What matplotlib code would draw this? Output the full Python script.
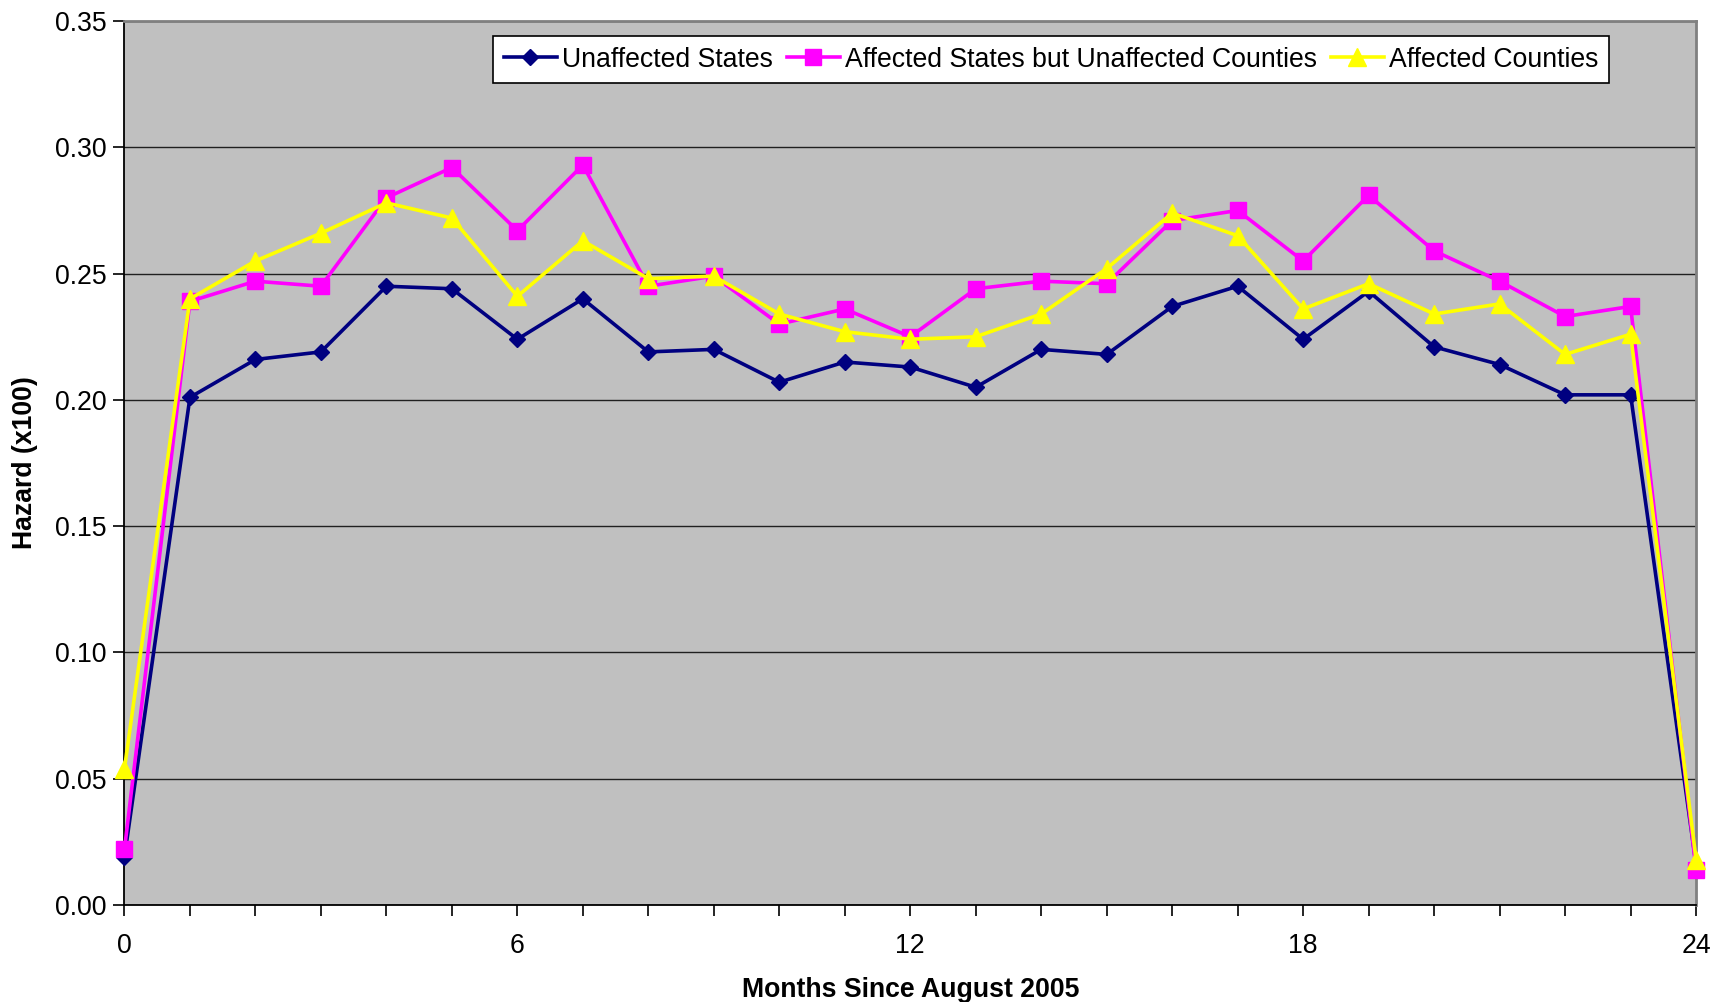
import matplotlib
matplotlib.use("Agg")
import matplotlib.pyplot as plt
from matplotlib.ticker import MultipleLocator, FixedLocator, FormatStrFormatter

plt.rcParams["font.family"] = ["Liberation Sans", "DejaVu Sans"]

months = list(range(25))

unaffected_states = [0.019, 0.201, 0.216, 0.219, 0.245, 0.244, 0.224, 0.240, 0.219,
                     0.220, 0.207, 0.215, 0.213, 0.205, 0.220, 0.218, 0.237, 0.245,
                     0.224, 0.243, 0.221, 0.214, 0.202, 0.202, 0.016]
affected_states_unaffected_counties = [0.022, 0.239, 0.247, 0.245, 0.280, 0.292, 0.267,
                                       0.293, 0.245, 0.249, 0.230, 0.236, 0.225, 0.244,
                                       0.247, 0.246, 0.271, 0.275, 0.255, 0.281, 0.259,
                                       0.247, 0.233, 0.237, 0.014]
affected_counties = [0.054, 0.240, 0.255, 0.266, 0.278, 0.272, 0.241, 0.263, 0.248,
                     0.249, 0.234, 0.227, 0.224, 0.225, 0.234, 0.252, 0.274, 0.265,
                     0.236, 0.246, 0.234, 0.238, 0.218, 0.226, 0.018]

series_labels = ["Unaffected States",
                 "Affected States but Unaffected Counties",
                 "Affected Counties"]
x_tick_labels = [0, 6, 12, 18, 24]

fs = 19.2

fig = plt.figure(figsize=(17.12, 10.02), dpi=100)
ax = fig.add_axes([0.0727, 0.0968, 0.9180, 0.8822])
ax.set_facecolor("#C0C0C0")

lw = 2.6
ax.plot(months, unaffected_states, color="#000080", lw=lw, marker="D", ms=8.5,
        mec="#000080", mfc="#000080", label=series_labels[0], clip_on=False, zorder=3)
ax.plot(months, affected_states_unaffected_counties, color="#FF00FF", lw=lw, marker="s",
        ms=11.5, mec="#FF00FF", mfc="#FF00FF", label=series_labels[1], clip_on=False, zorder=4)
ax.plot(months, affected_counties, color="#FFFF00", lw=lw, marker="^", ms=12.5,
        mec="#FFFF00", mfc="#FFFF00", label=series_labels[2], clip_on=False, zorder=5)

ax.set_xlim(0, 24)
ax.set_ylim(0, 0.35)
ax.xaxis.set_major_locator(FixedLocator(x_tick_labels))
ax.xaxis.set_minor_locator(MultipleLocator(1))
ax.yaxis.set_major_locator(MultipleLocator(0.05))
ax.yaxis.set_major_formatter(FormatStrFormatter("%.2f"))

ax.yaxis.grid(True, color="#202020", lw=1.0, zorder=1)
ax.set_axisbelow(True)

ax.tick_params(axis="both", which="both", direction="out", color="black",
               labelsize=fs, width=1.2)
ax.tick_params(axis="y", which="major", length=8, pad=5)
ax.tick_params(axis="x", which="major", length=8, pad=12)
ax.tick_params(axis="x", which="minor", length=8)

for side in ("left", "bottom"):
    ax.spines[side].set_color("black")
    ax.spines[side].set_linewidth(1.3)
for side in ("top", "right"):
    ax.spines[side].set_color("#808080")
    ax.spines[side].set_linewidth(2.0)

ax.set_xlabel("Months Since August 2005", fontsize=fs, fontweight="bold", labelpad=13)
ax.set_ylabel("Hazard (x100)", fontsize=fs, fontweight="bold", labelpad=12)

leg = ax.legend(loc="upper center", bbox_to_anchor=(0.5896, 0.983), ncol=3,
                fontsize=fs, frameon=True, fancybox=False, framealpha=1,
                edgecolor="black", facecolor="white", handlelength=2.0,
                handletextpad=0.2, columnspacing=0.5, borderpad=0.4,
                borderaxespad=0)
leg.get_frame().set_linewidth(1.2)

fig.savefig("out.png", dpi=100)
